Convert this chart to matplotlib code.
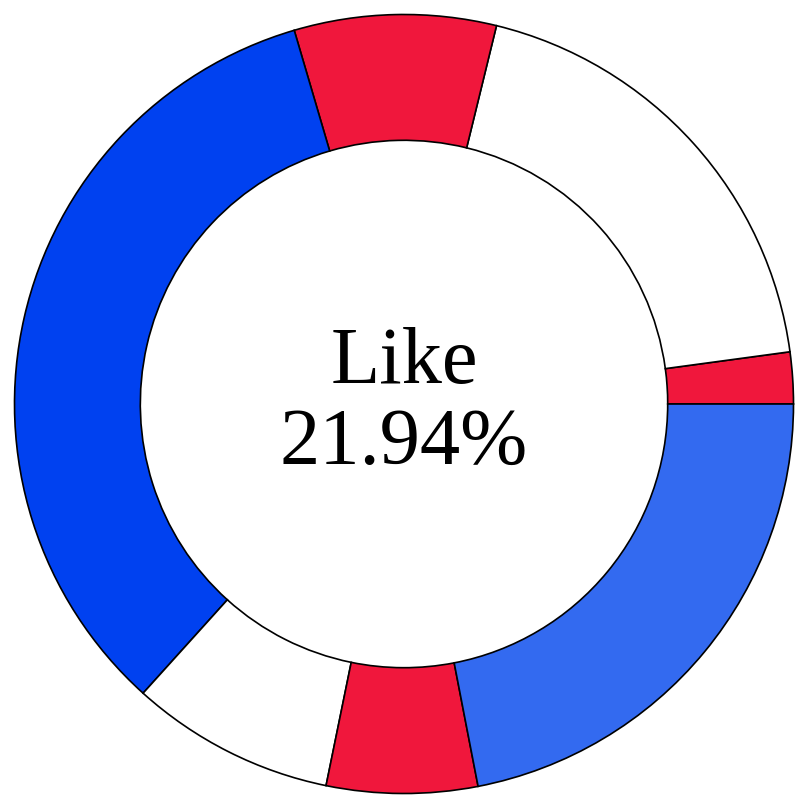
import matplotlib
matplotlib.use("Agg")
import matplotlib.pyplot as plt

labels = ["Neutral", "Dislike", "Strongly dislike", "Strongly like", "Unsure", "No answer", "Like"]
values = [2.14, 19.03, 8.36, 33.75, 8.47, 6.25, 21.94]
colors = ["#F0173C", "#FFFFFF", "#F0173C", "#0041F0", "#FFFFFF", "#F0173C", "#336AF0"]

center_label = "Like"
center_value = "21.94%"

fig = plt.figure(figsize=(8.08, 8.08), dpi=100)
ax = fig.add_axes([0, 0, 1, 1])
ax.pie(values, colors=colors, startangle=0, counterclock=True, radius=1.0,
       wedgeprops=dict(width=0.323, edgecolor="black", linewidth=1.2))
L = 808 / 2 / 389.5
ax.set_xlim(-L, L)
ax.set_ylim(-L, L)
ax.set_aspect("equal")
ax.axis("off")

ax.text(0, 0.053, center_label, ha="center", va="baseline", fontsize=58,
        family="Liberation Serif")
ax.text(0, -0.153, center_value, ha="center", va="baseline", fontsize=58,
        family="Liberation Serif")

fig.savefig("out.png", dpi=100)
